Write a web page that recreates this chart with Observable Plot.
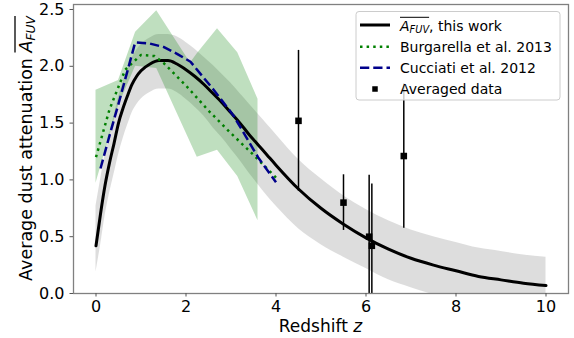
<!DOCTYPE html>
<html><head><meta charset="utf-8">
<script src="https://cdn.jsdelivr.net/npm/d3@7"></script>
<script src="https://cdn.jsdelivr.net/npm/@observablehq/plot@0.6"></script>
<style>html,body{margin:0;padding:0;background:#fff;overflow:hidden}</style>
</head><body><div id="chart"></div>
<script>
// ---- data ----
const zFit   = [0,0.1,0.2,0.3,0.4,0.5,0.6,0.7,0.8,0.9,1.0,1.2,1.4,1.6,1.8,2.0,2.2,2.4,2.6,2.8,3.0,3.2,3.4,3.6,3.8,4.0,4.5,5.0,5.5,6.0,6.5,7.0,7.5,8.0,8.5,9.0,9.5,10];
const aFit   = [0.42,0.70,0.95,1.15,1.32,1.50,1.63,1.74,1.84,1.91,1.96,2.02,2.05,2.05,2.02,1.97,1.91,1.84,1.76,1.68,1.59,1.50,1.40,1.31,1.22,1.13,0.92,0.75,0.61,0.49,0.39,0.31,0.25,0.20,0.15,0.12,0.09,0.07];
const aFitHi = [0.77,1.00,1.22,1.40,1.56,1.73,1.86,1.97,2.07,2.14,2.19,2.25,2.28,2.28,2.26,2.21,2.15,2.08,2.01,1.93,1.85,1.76,1.67,1.58,1.49,1.40,1.18,1.01,0.86,0.74,0.64,0.56,0.50,0.45,0.40,0.37,0.34,0.32];
const aFitLo = [0.19,0.42,0.68,0.88,1.05,1.22,1.36,1.48,1.59,1.66,1.71,1.77,1.80,1.80,1.77,1.71,1.64,1.56,1.46,1.37,1.27,1.17,1.06,0.96,0.86,0.77,0.57,0.43,0.32,0.22,0.12,0.05,-0.01,-0.06,-0.10,-0.13,-0.16,-0.18];

const zBurg = [0,0.3,0.65,1.0,1.3,1.5,2.0,2.5,3.0,3.5,4.0];
const aBurg = [1.20,1.62,1.97,2.10,2.09,2.03,1.83,1.61,1.41,1.22,1.02];

const zBurgBand  = [0,0.5,0.88,1.35,2.1,2.25,2.7,3.15,3.6];
const burgBandHi = [1.79,1.875,2.30,2.49,2.03,2.11,2.33,2.12,1.71];
const burgBandLo = [0.97,1.65,2.00,1.98,1.33,1.20,1.26,1.03,0.64];

const zCucc = [0.1,0.3,0.5,0.7,0.87,1.2,1.5,1.8,2.1,2.6,3.05,3.6,4.0];
const aCucc = [1.10,1.39,1.67,1.96,2.21,2.20,2.17,2.11,2.04,1.80,1.57,1.20,0.98];

const zData   = [4.5,5.5,6.07,6.13,6.84];
const aData   = [1.52,0.80,0.50,0.42,1.21];
const errData = [0.62,0.245,0.54,0.545,0.635];

const xTicks = [0,2,4,6,8,10];
const yTicks = [0,0.5,1,1.5,2,2.5];

const legendLabels = ["Burgarella et al. 2013","Cucciati et al. 2012","Averaged data"];

// ---- tables ----
const fit = zFit.map((z,i)=>({z, a:aFit[i], lo:aFitLo[i], hi:aFitHi[i]}));
const burg = zBurg.map((z,i)=>({z, a:aBurg[i]}));
const burgBand = zBurgBand.map((z,i)=>({z, lo:burgBandLo[i], hi:burgBandHi[i]}));
const cucc = zCucc.map((z,i)=>({z, a:aCucc[i]}));
const pts = zData.map((z,i)=>({z, a:aData[i], e:errData[i]}));

const W = 574, H = 338, mL = 73, mR = 6, mT = 4, mB = 45;
const font = "DejaVu Sans";
const green = "#008000", navy = "#00008b";

const plot = Plot.plot({
  width: W, height: H,
  marginLeft: mL, marginRight: mR, marginTop: mT, marginBottom: mB,
  style: {fontFamily: font, background: "white", color: "black"},
  x: {domain: [-0.5, 10.5]},
  y: {domain: [0, 2.544]},
  marks: [
    Plot.areaY(fit, {x: "z", y1: "lo", y2: "hi", fill: "#808080", fillOpacity: 0.27, curve: "monotone-x", clip: true}),
    Plot.areaY(burgBand, {x: "z", y1: "lo", y2: "hi", fill: green, fillOpacity: 0.25, clip: true}),
    Plot.line(fit, {x: "z", y: "a", stroke: "black", strokeWidth: 3, curve: "monotone-x", clip: true}),
    Plot.line(burg, {x: "z", y: "a", stroke: green, strokeWidth: 2.5, strokeDasharray: "2.5,4.1", strokeLinecap: "butt", clip: true}),
    Plot.line(cucc, {x: "z", y: "a", stroke: navy, strokeWidth: 2.5, strokeDasharray: "9.25,4", strokeLinecap: "butt", clip: true}),
    Plot.ruleX(pts, {x: "z", y1: d => d.a - d.e, y2: d => d.a + d.e, stroke: "black", strokeWidth: 1.5, clip: true}),
    Plot.dot(pts, {x: "z", y: "a", symbol: "square", r: 3.7, fill: "black", stroke: null}),
    Plot.frame({stroke: "#808080", strokeWidth: 1.3}),
    Plot.axisX(xTicks, {tickSize: 3.5, tickPadding: 4, fontSize: 16, stroke: "#555", label: null, tickFormat: d3.format("d")}),
    Plot.axisY(yTicks, {tickSize: 3.5, tickPadding: 5.5, fontSize: 16, stroke: "#555", label: null, tickFormat: d3.format(".1f")})
  ]
});
document.getElementById("chart").appendChild(plot);

const svg = d3.select(plot);

// helper: overline over chars [i0..i1] of a text element, drawn in same group
function overline(g, textNode, i0, i1, rise, sw) {
  const a = textNode.getExtentOfChar(i0), b = textNode.getExtentOfChar(i1);
  const y = textNode.getStartPositionOfChar(i0).y - rise;
  g.append("line").attr("x1", a.x).attr("x2", b.x + b.width)
    .attr("y1", y).attr("y2", y).attr("stroke", "black").attr("stroke-width", sw);
}

// x axis label
const xl = svg.append("text").attr("x", mL + (W - mL - mR) / 2).attr("y", 332)
  .attr("text-anchor", "middle").attr("font-family", font).attr("font-size", 17).attr("fill", "black");
xl.append("tspan").text("Redshift ");
xl.append("tspan").attr("font-style", "italic").text("z");

// y axis label
const yg = svg.append("g").attr("transform", `translate(31.5,${mT + (H - mT - mB) / 2}) rotate(-90)`);
const yl = yg.append("text").attr("text-anchor", "middle").attr("font-family", font)
  .attr("font-size", 17.5).attr("fill", "black");
yl.append("tspan").text("Average dust attenuation ");
yl.append("tspan").attr("font-style", "italic").text("A");
yl.append("tspan").attr("font-style", "italic").attr("font-size", "0.7em").attr("dy", "0.25em").text("FUV");
const yPre = "Average dust attenuation ".length;
overline(yg, yl.node(), yPre, yPre + 3, 16.5, 1.3);

// legend
const lx = 356, ly = 11.5, lw = 204, lh = 88.5, rowH = 21, hx0 = lx + 4, hx1 = lx + 34, tx = lx + 44;
const lg = svg.append("g").attr("font-family", font).attr("font-size", 14).attr("text-anchor", "start");
lg.append("rect").attr("x", lx).attr("y", ly).attr("width", lw).attr("height", lh).attr("rx", 3)
  .attr("fill", "white").attr("fill-opacity", 0.8).attr("stroke", "#cccccc").attr("stroke-width", 1);
const base0 = ly + 19.5;
// row 1
lg.append("line").attr("x1", hx0).attr("x2", hx1).attr("y1", base0 - 6).attr("y2", base0 - 6)
  .attr("stroke", "black").attr("stroke-width", 3);
const t1 = lg.append("text").attr("x", tx).attr("y", base0).attr("fill", "black");
t1.append("tspan").attr("font-style", "italic").text("A");
t1.append("tspan").attr("font-style", "italic").attr("font-size", "0.7em").attr("dy", "0.25em").text("FUV");
t1.append("tspan").attr("dy", "-0.175em").text(", this work");
overline(lg, t1.node(), 0, 3, 13.7, 1);
// row 2
lg.append("line").attr("x1", hx0).attr("x2", hx1).attr("y1", base0 + rowH - 5.3).attr("y2", base0 + rowH - 5.3)
  .attr("stroke", green).attr("stroke-width", 2.5).attr("stroke-dasharray", "2.5,4.1");
lg.append("text").attr("x", tx).attr("y", base0 + rowH).attr("fill", "black").text(legendLabels[0]);
// row 3
lg.append("line").attr("x1", hx0).attr("x2", hx1).attr("y1", base0 + 2 * rowH - 5.3).attr("y2", base0 + 2 * rowH - 5.3)
  .attr("stroke", navy).attr("stroke-width", 2.5).attr("stroke-dasharray", "9.25,4");
lg.append("text").attr("x", tx).attr("y", base0 + 2 * rowH).attr("fill", "black").text(legendLabels[1]);
// row 4
const sq = 5.5;
lg.append("rect").attr("x", (hx0 + hx1) / 2 - sq / 2).attr("y", base0 + 3 * rowH - 5 - sq / 2)
  .attr("width", sq).attr("height", sq).attr("fill", "black");
lg.append("text").attr("x", tx).attr("y", base0 + 3 * rowH).attr("fill", "black").text(legendLabels[2]);
</script>
</body></html>
